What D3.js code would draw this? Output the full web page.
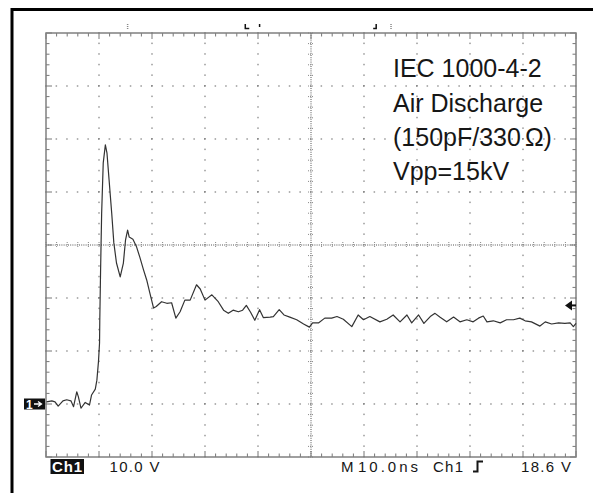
<!DOCTYPE html>
<html>
<head>
<meta charset="utf-8">
<script src="https://cdn.jsdelivr.net/npm/d3@7"></script>
<style>
  body { margin: 0; background: #fff; }
  svg { display: block; }
</style>
</head>
<body>
<div id="chart"></div>
<script>
// waveform: time in ns, level in V (10 V/div, 10 ns/div)
var timeNs = [0.1, 1.1, 1.7, 2.3, 3.2, 3.9, 4.7, 5.2, 5.8, 6.1, 6.6, 7.4, 8.2, 8.6, 9.3, 9.6, 9.9,
  10.1, 10.15, 10.3, 10.5, 10.8, 11.2, 11.5, 11.9, 12.4, 12.8, 13.3, 14.0, 14.6, 15.0, 15.4,
  15.7, 16.4, 17.1, 17.7, 18.4, 19.0, 19.6, 20.3, 20.8, 21.8, 22.8, 23.7, 24.5, 25.3, 26.2,
  27.2, 28.4, 29.1, 30.0, 31.3, 32.5, 33.5, 34.4, 35.3, 36.3, 37.1, 37.8, 38.6, 39.4, 40.3,
  41.0, 42.3, 42.9, 44.0, 44.9, 46.0, 47.3, 48.6, 49.7, 50.3, 51.4, 52.6, 53.9, 54.9, 56.1,
  57.7, 58.9, 59.9, 61.1, 63.0, 64.3, 65.5, 66.8, 68.1, 69.0, 70.3, 71.3, 72.5, 73.4, 74.3,
  75.6, 76.9, 78.1, 79.4, 80.6, 81.6, 82.5, 83.2, 84.4, 85.7, 86.9, 88.2, 89.4, 90.4, 91.6,
  93.2, 94.2, 95.4, 96.7, 97.9, 98.9, 99.5, 100.0];
var volts = [0.4, 0.6, 0.4, -0.4, 0.6, 0.8, 0.6, -0.5, 2.3, 1.4, -0.8, 0.3, -0.2, 1.7, 2.8, 4.5, 8.0,
  11.5, 15.9, 25.3, 36.0, 45.5, 48.9, 47.4, 42.3, 36.0, 30.4, 26.6, 24.0, 26.6, 30.9, 32.8,
  31.5, 31.1, 29.6, 27.7, 25.3, 23.4, 20.9, 18.1, 18.4, 19.3, 19.0, 19.1, 16.2, 17.4, 19.6,
  19.6, 22.5, 21.7, 19.6, 20.6, 19.3, 17.7, 17.1, 17.7, 17.4, 17.7, 18.6, 17.3, 15.8, 17.8,
  16.3, 16.4, 16.5, 17.8, 16.8, 16.4, 15.9, 15.1, 14.5, 15.3, 15.3, 16.2, 16.2, 16.5, 16.0,
  14.6, 16.8, 15.9, 16.5, 15.5, 16.0, 16.8, 15.5, 16.8, 15.3, 16.8, 15.2, 16.5, 17.1, 16.4,
  15.5, 16.4, 15.5, 15.9, 15.5, 16.2, 16.6, 15.5, 15.7, 15.3, 15.9, 15.9, 16.2, 15.7, 15.5,
  14.7, 15.5, 15.1, 15.3, 15.2, 15.3, 14.6, 15.2];

var noteLines = ["IEC 1000-4-2", "Air Discharge", "(150pF/330", "Vpp=15kV"];
var statusLeft = ["Ch1", "10.0 V"];
var statusRight = ["M", "10.0ns", "Ch1", "18.6 V"];
var triggerLevel = 18.6;   // V
var groundLevel = 0;       // V
var cursorTimes = [15.4, 37.6, 40.3, 62.3, 65.1];

var width = 593, height = 493;
var font = "'Liberation Sans', Arial, sans-serif";

var svg = d3.select("#chart").append("svg")
    .attr("width", width)
    .attr("height", height)
    .style("background", "#fff");

// screen area: 10 x 8 divisions
var x = d3.scaleLinear().domain([0, 100]).range([46, 576]);
var y = d3.scaleLinear().domain([-10, 70]).range([457, 33]);

// outer frame (only top and left edge fall inside the picture)
svg.append("path")
    .attr("d", "M12,496V9.5H600")
    .attr("fill", "none")
    .attr("stroke", "#000")
    .attr("stroke-width", 3);

var grid = svg.append("g");
var minorT = d3.range(0, 100.01, 2);
var minorV = d3.range(-10, 70.01, 2);
var majorT = d3.range(10, 91, 10).filter(function(d) { return d != 50; });
var majorV = d3.range(0, 61, 10).filter(function(d) { return d != 30; });

// dotted major lines
majorT.forEach(function(t) {
  grid.selectAll(null).data(minorV).enter().append("rect")
      .attr("x", x(t) - 0.5).attr("y", function(v) { return y(v) - 1; })
      .attr("width", 1).attr("height", 1.5).attr("fill", "#666");
});
majorV.forEach(function(v) {
  grid.selectAll(null).data(minorT).enter().append("rect")
      .attr("x", function(t) { return x(t) - 1; }).attr("y", y(v) - 0.5)
      .attr("width", 1.5).attr("height", 1).attr("fill", "#666");
});

// centre axes, dense dots with small cross ticks
grid.append("line")
    .attr("x1", x(50)).attr("x2", x(50)).attr("y1", y(70)).attr("y2", y(-10))
    .attr("stroke", "#555").attr("stroke-dasharray", "1,1.2");
grid.append("line")
    .attr("x1", x(0)).attr("x2", x(100)).attr("y1", y(30)).attr("y2", y(30))
    .attr("stroke", "#555").attr("stroke-dasharray", "1,1.2");
grid.selectAll(null).data(minorV).enter().append("line")
    .attr("x1", x(50) - 3).attr("x2", x(50) + 3)
    .attr("y1", function(v) { return y(v); }).attr("y2", function(v) { return y(v); })
    .attr("stroke", "#888").attr("stroke-dasharray", "1,1");
grid.selectAll(null).data(minorT).enter().append("line")
    .attr("y1", y(30) - 3).attr("y2", y(30) + 3)
    .attr("x1", function(t) { return x(t); }).attr("x2", function(t) { return x(t); })
    .attr("stroke", "#888").attr("stroke-dasharray", "1,1");

// ticks on the border
function tickLen(d) { return d % 10 == 0 ? 6 : 3.5; }
grid.selectAll(null).data(minorT).enter().append("line")
    .attr("x1", function(t) { return x(t); }).attr("x2", function(t) { return x(t); })
    .attr("y1", y(70)).attr("y2", function(t) { return y(70) + tickLen(t); })
    .attr("stroke", "#777");
grid.selectAll(null).data(minorT).enter().append("line")
    .attr("x1", function(t) { return x(t); }).attr("x2", function(t) { return x(t); })
    .attr("y1", y(-10)).attr("y2", function(t) { return y(-10) - tickLen(t); })
    .attr("stroke", "#777");
grid.selectAll(null).data(minorV).enter().append("line")
    .attr("y1", function(v) { return y(v); }).attr("y2", function(v) { return y(v); })
    .attr("x1", x(0)).attr("x2", function(v) { return x(0) + tickLen(v); })
    .attr("stroke", "#777");
grid.selectAll(null).data(minorV).enter().append("line")
    .attr("y1", function(v) { return y(v); }).attr("y2", function(v) { return y(v); })
    .attr("x1", x(100)).attr("x2", function(v) { return x(100) - tickLen(v); })
    .attr("stroke", "#777");

grid.append("rect")
    .attr("x", x(0)).attr("y", y(70))
    .attr("width", x(100) - x(0)).attr("height", y(-10) - y(70))
    .attr("fill", "none").attr("stroke", "#808080").attr("stroke-width", 1.5);

// cursor markers above the screen
var cur = svg.append("g").attr("stroke-width", 1.5).attr("fill", "none");
cursorTimes.forEach(function(t, i) {
  var cx = x(t);
  if (i == 0 || i == 4) {
    cur.append("line").attr("x1", cx).attr("x2", cx).attr("y1", 24).attr("y2", 29)
        .attr("stroke", "#888").attr("stroke-dasharray", "1,1");
  } else if (i == 1) {
    cur.append("path").attr("d", "M" + cx + ",24V28.5H" + (cx + 4)).attr("stroke", "#111");
  } else if (i == 3) {
    cur.append("path").attr("d", "M" + (cx - 3) + ",28.5H" + cx + "V24").attr("stroke", "#111");
  } else {
    cur.append("line").attr("x1", cx).attr("x2", cx).attr("y1", 24).attr("y2", 27)
        .attr("stroke", "#111");
  }
});

// waveform
var pts = timeNs.map(function(t, i) { return [t, volts[i]]; });
var line = d3.line()
    .x(function(d) { return x(d[0]); })
    .y(function(d) { return y(d[1]); });

svg.append("path")
    .datum(pts)
    .attr("d", line)
    .attr("fill", "none")
    .attr("stroke", "#333")
    .attr("stroke-width", 1.2)
    .attr("stroke-linejoin", "round");

// ground marker "1->"
var gy = y(groundLevel);
svg.append("rect").attr("x", 24).attr("y", gy - 5.5).attr("width", 21).attr("height", 11).attr("fill", "#111");
svg.append("text").attr("x", 26).attr("y", gy + 4.5)
    .attr("font-family", font).attr("font-size", 12).attr("font-weight", "bold")
    .attr("fill", "#fff").text("1");
svg.append("path")
    .attr("d", "M34," + gy + "H41M38," + (gy - 2.5) + "L41.5," + gy + "L38," + (gy + 2.5))
    .attr("fill", "none").attr("stroke", "#fff").attr("stroke-width", 1.3);

// trigger level arrow
var ty = y(triggerLevel);
svg.append("path")
    .attr("d", "M" + (x(100) - 11) + "," + ty + "L" + (x(100) - 4) + "," + (ty - 5) + "V" + (ty + 5) + "Z")
    .attr("fill", "#111");
svg.append("line").attr("x1", x(100) - 6).attr("x2", x(100)).attr("y1", ty).attr("y2", ty)
    .attr("stroke", "#111").attr("stroke-width", 2);

// annotation
var note = svg.append("g")
    .attr("font-family", font).attr("font-size", 25).attr("fill", "#161616");
noteLines.forEach(function(s, i) {
  var t = note.append("text").attr("x", 393).attr("y", 77.3 + i * 34.2).text(s);
  if (i == 2) {
    t.append("tspan").attr("dx", 4).text("\u03A9");
    t.append("tspan").text(")");
  }
});

// status line
svg.append("rect").attr("x", 50.5).attr("y", 459).attr("width", 33.5).attr("height", 15).attr("fill", "#111");
var stat = svg.append("g").attr("font-family", font).attr("font-size", 15).attr("fill", "#161616");
stat.append("text").attr("x", 52).attr("y", 472).attr("fill", "#fff").attr("font-weight", "bold")
    .attr("textLength", 30).attr("lengthAdjust", "spacing").text(statusLeft[0]);
stat.append("text").attr("x", 109.5).attr("y", 472)
    .attr("textLength", 50).attr("lengthAdjust", "spacing").text(statusLeft[1]);

var rightPos = [[341, 0], [358, 60], [433, 30], [521, 50]];
statusRight.forEach(function(s, i) {
  var t = stat.append("text").attr("x", rightPos[i][0]).attr("y", 472).text(s);
  if (rightPos[i][1]) t.attr("textLength", rightPos[i][1]).attr("lengthAdjust", "spacing");
});
// rising edge trigger symbol
stat.append("path")
    .attr("d", "M473,471.5H477.5V461.5H483")
    .attr("fill", "none").attr("stroke", "#161616").attr("stroke-width", 2);
</script>
</body>
</html>
